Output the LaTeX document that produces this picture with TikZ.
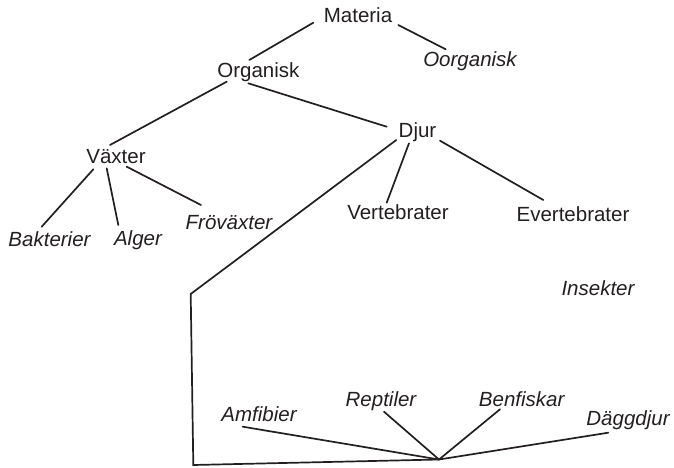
\documentclass[tikz,border=0pt]{standalone}
\usepackage{fontspec}
\setmainfont{Liberation Sans}
\definecolor{ink}{RGB}{35,31,32}
\begin{document}
\begin{tikzpicture}[x=1pt,y=-1pt,
  lbl/.style={anchor=base,inner sep=0pt,text=ink,font=\fontsize{20.5}{24}\selectfont},
  ilbl/.style={lbl,font=\fontsize{20.5}{24}\selectfont\itshape},
  edge/.style={draw=ink,line width=1.7pt,line cap=round,line join=miter}]
\useasboundingbox (0,0) rectangle (674,468);
% labels
\node[lbl]  (mat) at (358,23)    {Materia};
\node[ilbl] (oor) at (470,66.7)  {Oorganisk};
\node[lbl]  (org) at (258.4,78)  {Organisk};
\node[lbl]  (dju) at (417.5,138) {Djur};
\node[lbl]  (vax) at (116,163.3) {Växter};
\node[ilbl] (bak) at (49.5,246.7) {Bakterier};
\node[ilbl] (alg) at (138,245)   {Alger};
\node[ilbl] (fro) at (229,229)   {Fröväxter};
\node[lbl]  (ver) at (398,219)   {Vertebrater};
\node[lbl]  (eve) at (573,221.7) {Evertebrater};
\node[ilbl] (ins) at (598,295)   {Insekter};
\node[ilbl] (amf) at (259,421.7) {Amfibier};
\node[ilbl] (rep) at (381,406)   {Reptiler};
\node[ilbl] (ben) at (521.7,406) {Benfiskar};
\node[ilbl] (dag) at (628,425)   {Däggdjur};
% connector end points
\coordinate (mat-sw) at (313.3,22.7);
\coordinate (org-ne) at (249.3,60);
\coordinate (mat-se) at (398.3,25);
\coordinate (oor-nw) at (445.7,49.3);
\coordinate (org-sw) at (226.7,81.7);
\coordinate (vax-n)  at (110,145);
\coordinate (org-se) at (248.3,83.3);
\coordinate (dju-nw) at (386.7,126.7);
\coordinate (dju-sw) at (396.3,140);
\coordinate (dju-s)  at (409,143.3);
\coordinate (ver-n)  at (386.7,202.7);
\coordinate (dju-se) at (440,140.7);
\coordinate (eve-n)  at (543.3,200);
\coordinate (vax-sw) at (93.3,169.3);
\coordinate (bak-n)  at (41.7,226.7);
\coordinate (vax-s)  at (106.7,168.3);
\coordinate (alg-n)  at (118.3,225);
\coordinate (vax-se) at (126.7,166.7);
\coordinate (fro-n)  at (201,205);
\coordinate (bend1)  at (190.7,294);
\coordinate (bend2)  at (193.3,465);
\coordinate (hub)    at (439,459.5);
\coordinate (amf-s)  at (242.7,426.7);
\coordinate (rep-s)  at (384,411.7);
\coordinate (ben-s)  at (500,409.3);
\coordinate (dag-s)  at (608.3,432.7);
% connectors
\draw[edge] (mat-sw) -- (org-ne);
\draw[edge] (mat-se) -- (oor-nw);
\draw[edge] (org-sw) -- (vax-n);
\draw[edge] (org-se) -- (dju-nw);
\draw[edge] (dju-s) -- (ver-n);
\draw[edge] (dju-se) -- (eve-n);
\draw[edge] (vax-sw) -- (bak-n);
\draw[edge] (vax-s) -- (alg-n);
\draw[edge] (vax-se) -- (fro-n);
\draw[edge] (dju-sw) -- (bend1) -- (bend2) -- (hub);
\draw[edge] (amf-s) -- (hub);
\draw[edge] (rep-s) -- (hub);
\draw[edge] (ben-s) -- (hub);
\draw[edge] (dag-s) -- (hub);
\end{tikzpicture}
\end{document}
